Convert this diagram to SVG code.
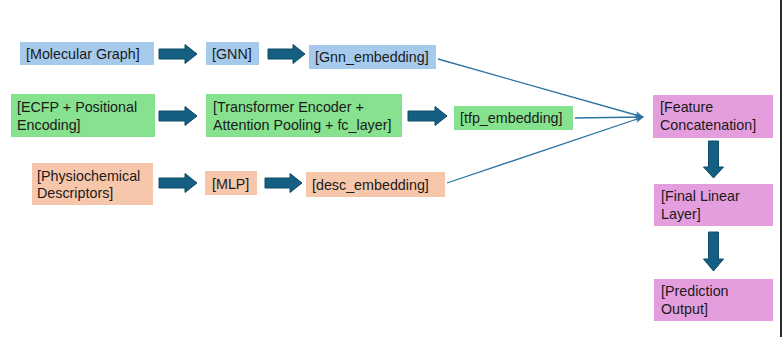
<svg xmlns="http://www.w3.org/2000/svg" width="782" height="337" viewBox="0 0 782 337">
<defs>
<style>
text{font-family:"Liberation Sans",Arial,sans-serif;font-size:14.3px;fill:#1a1a1a}
.blue{fill:#A6CAEC}
.green{fill:#86E28E}
.peach{fill:#F7C7AC}
.pink{fill:#E59EDD}
.blk{fill:#156082;stroke:#0F4A66;stroke-width:1}
.ln{stroke:#2A73A0;stroke-width:1.3;fill:none}
</style>
<marker id="ah" viewBox="0 0 10 10" refX="9" refY="5" markerWidth="9" markerHeight="9" markerUnits="userSpaceOnUse" orient="auto">
<path d="M0,1 L10,5 L0,9 L3,5 Z" fill="#2A73A0"/>
</marker>
</defs>
<rect width="782" height="337" fill="#ffffff"/>
<rect x="780" y="0" width="2" height="337" fill="#2b2b2b"/>

<g id="molecular-graph"><rect class="blue" x="20" y="42" width="134" height="23"/><text x="26" y="59">[Molecular Graph]</text></g>
<g id="gnn"><rect class="blue" x="206" y="42" width="53" height="23"/><text x="212" y="59">[GNN]</text></g>
<g id="gnn-embedding"><rect class="blue" x="309" y="45" width="127" height="24"/><text x="315" y="62">[Gnn_embedding]</text></g>

<g id="ecfp"><rect class="green" x="11" y="94" width="144" height="43"/><text x="17" y="112">[ECFP + Positional</text><text x="17" y="129.5">Encoding]</text></g>
<g id="transformer"><rect class="green" x="206" y="94" width="196" height="43"/><text x="213" y="112">[Transformer Encoder +</text><text x="213" y="129.5">Attention Pooling + fc_layer]</text></g>
<g id="tfp-embedding"><rect class="green" x="454" y="106" width="119" height="24"/><text x="460" y="123">[tfp_embedding]</text></g>

<g id="physiochemical"><rect class="peach" x="32" y="163" width="121" height="42"/><text x="37" y="181">[Physiochemical</text><text x="37" y="198">Descriptors]</text></g>
<g id="mlp"><rect class="peach" x="205" y="171" width="52" height="24"/><text x="212" y="189">[MLP]</text></g>
<g id="desc-embedding"><rect class="peach" x="306" y="172" width="139" height="25"/><text x="312" y="190">[desc_embedding]</text></g>

<g id="feature-concatenation"><rect class="pink" x="653" y="95" width="120" height="43"/><text x="660" y="112">[Feature</text><text x="660" y="130">Concatenation]</text></g>
<g id="final-linear"><rect class="pink" x="654" y="184" width="119" height="42"/><text x="661" y="201">[Final Linear</text><text x="661" y="219">Layer]</text></g>
<g id="prediction-output"><rect class="pink" x="654" y="279" width="119" height="42"/><text x="661" y="296">[Prediction</text><text x="661" y="314">Output]</text></g>

<g id="connectors">
<path class="blk" d="M159,49 H185 V44.5 L197,54 L185,63.5 V59 H159 Z"/>
<path class="blk" d="M268,49 H293 V44.5 L305,54 L293,63.5 V59 H268 Z"/>
<path class="blk" d="M159,111 H185 V106.5 L197,116 L185,125.5 V121 H159 Z"/>
<path class="blk" d="M408,111 H435 V106.5 L447,116 L435,125.5 V121 H408 Z"/>
<path class="blk" d="M159,178 H185 V173.5 L197,183 L185,192.5 V188 H159 Z"/>
<path class="blk" d="M265,178 H290 V173.5 L302,183 L290,192.5 V188 H265 Z"/>
<path class="blk" d="M708.5,141 V167 H703.5 L713.5,178 L723.5,167 H718.5 V141 Z"/>
<path class="blk" d="M708.5,232 V259 H703.5 L713.5,271 L723.5,259 H718.5 V232 Z"/>
<line class="ln" x1="438" y1="59" x2="643" y2="117" marker-end="url(#ah)"/>
<line class="ln" x1="575" y1="118" x2="643" y2="117" marker-end="url(#ah)"/>
<line class="ln" x1="447" y1="183" x2="643" y2="117" marker-end="url(#ah)"/>
</g>
</svg>
